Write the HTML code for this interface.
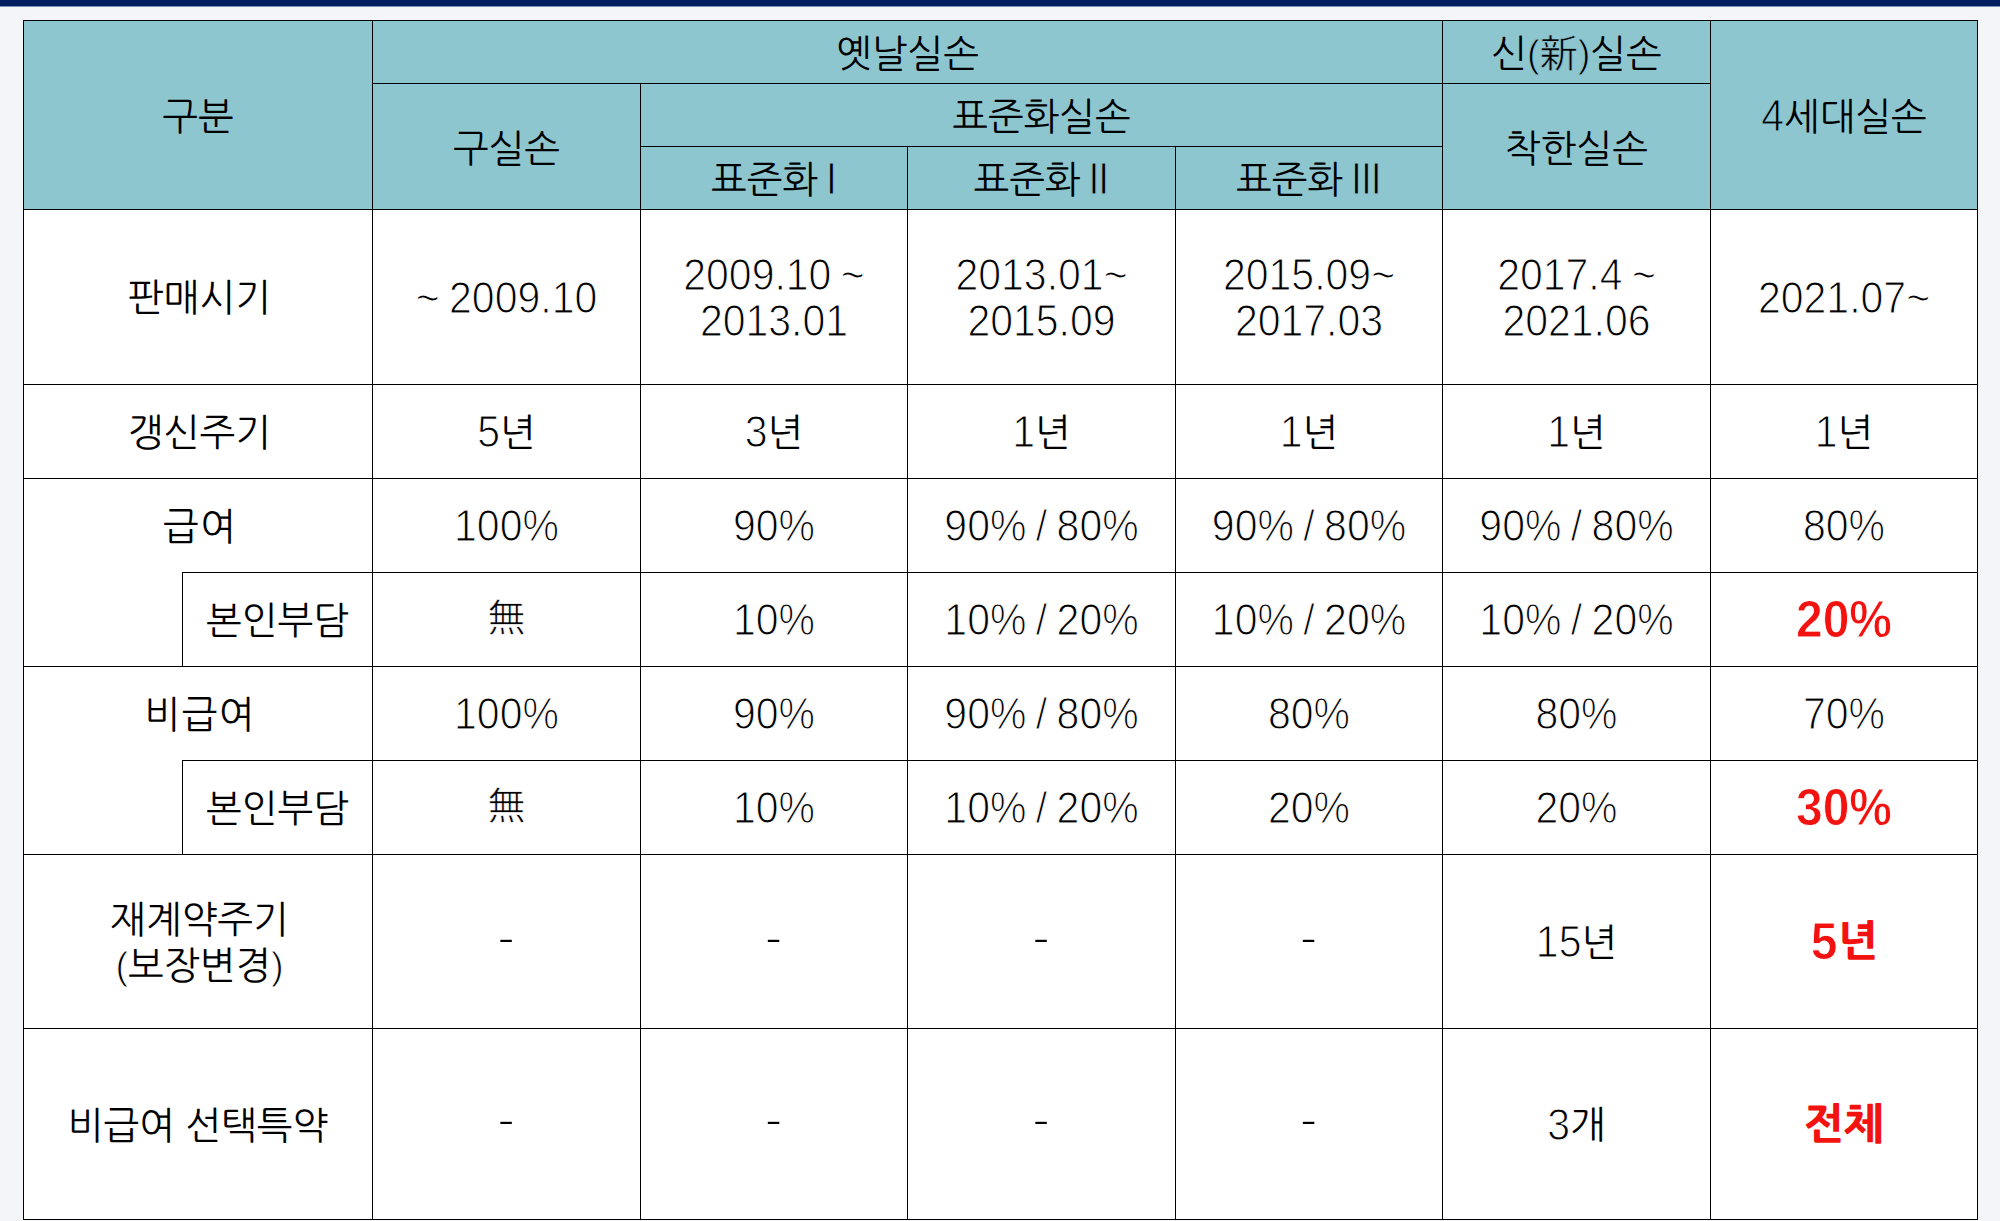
<!DOCTYPE html>
<html lang="ko">
<head>
<meta charset="utf-8">
<title>실손보험 세대별 비교</title>
<style>
html,body{margin:0;padding:0;}
body{width:2000px;height:1221px;overflow:hidden;background:#f4f5f9;position:relative;
 font-family:"Liberation Sans","NanumGothic","Noto Sans CJK KR",sans-serif;color:#000;}
.bar{position:absolute;left:0;top:0;width:2000px;height:6px;background:#001f63;}
.bar2{position:absolute;left:0;top:6px;width:2000px;height:1px;background:#7a8fb1;}
.hd{position:absolute;left:23px;top:20px;width:1955px;height:190px;background:#8ec6d0;}
.bd{position:absolute;left:23px;top:210px;width:1955px;height:1010px;background:#fff;}
.l{position:absolute;background:#000;}
.c{position:absolute;display:flex;align-items:center;justify-content:center;text-align:center;
 font-size:38px;line-height:46px;white-space:nowrap;}
.t{position:relative;top:1px;display:block;}
.h .t{top:2px;}
.n{font-size:41px;position:relative;top:1.5px;word-spacing:-2px;-webkit-text-stroke:1px #fff;display:inline-block;line-height:40px;transform:scaleY(1.09);transform-origin:50% 83%;}
.h .n{-webkit-text-stroke-color:#8ec6d0;top:0.5px;}
.c b{color:#f21310;font-weight:800;font-size:42.5px;position:relative;top:0;}
.c b .n{font-size:48px;top:2.5px;-webkit-text-stroke:0.8px #fff;transform:scaleY(1.07);}
.u3{position:relative;top:-3px;-webkit-text-stroke:0.7px #fff;}
.r{word-spacing:-3px;}
.r .n{letter-spacing:-1.5px;margin-right:1.5px;}
.p{-webkit-text-stroke:0.9px #fff;}
.h .p{-webkit-text-stroke-color:#8ec6d0;}
.hj{-webkit-text-stroke:0.6px #8ec6d0;}
.c .d{font-size:56px;top:-1.5px;left:-0.5px;transform:none;-webkit-text-stroke:2.1px #fff;}
.d1{position:relative;top:1px;}
.lab{padding-left:3px;box-sizing:border-box;}
.ls{letter-spacing:1.5px;margin-right:-1.5px;}
</style>
</head>
<body>
<div class="bar"></div><div class="bar2"></div>
<div class="hd"></div>
<div class="bd"></div>
<div class="l" style="left:23px;top:20px;width:1955px;height:1px"></div>
<div class="l" style="left:23px;top:1219px;width:1955px;height:1px"></div>
<div class="l" style="left:23px;top:20px;width:1px;height:1200px"></div>
<div class="l" style="left:1977px;top:20px;width:1px;height:1200px"></div>
<div class="l" style="left:372px;top:83px;width:1339px;height:1px"></div>
<div class="l" style="left:640px;top:146px;width:803px;height:1px"></div>
<div class="l" style="left:23px;top:209px;width:1955px;height:1px"></div>
<div class="l" style="left:372px;top:20px;width:1px;height:1200px"></div>
<div class="l" style="left:640px;top:83px;width:1px;height:1137px"></div>
<div class="l" style="left:907px;top:146px;width:1px;height:1074px"></div>
<div class="l" style="left:1175px;top:146px;width:1px;height:1074px"></div>
<div class="l" style="left:1442px;top:20px;width:1px;height:1200px"></div>
<div class="l" style="left:1710px;top:20px;width:1px;height:1200px"></div>
<div class="l" style="left:23px;top:384px;width:1955px;height:1px"></div>
<div class="l" style="left:23px;top:478px;width:1955px;height:1px"></div>
<div class="l" style="left:23px;top:666px;width:1955px;height:1px"></div>
<div class="l" style="left:23px;top:854px;width:1955px;height:1px"></div>
<div class="l" style="left:23px;top:1028px;width:1955px;height:1px"></div>
<div class="l" style="left:182px;top:572px;width:1796px;height:1px"></div>
<div class="l" style="left:182px;top:760px;width:1796px;height:1px"></div>
<div class="l" style="left:182px;top:572px;width:1px;height:95px"></div>
<div class="l" style="left:182px;top:760px;width:1px;height:95px"></div>
<div class="c h" style="left:24px;top:21px;width:348px;height:188px"><span class="t">구분</span></div>
<div class="c h" style="left:373px;top:21px;width:1069px;height:62px"><span class="t">옛날실손</span></div>
<div class="c h" style="left:1443px;top:21px;width:267px;height:62px"><span class="t">신<span class="p">(</span><span class="hj">新</span><span class="p">)</span>실손</span></div>
<div class="c h" style="left:1711px;top:21px;width:266px;height:188px"><span class="t"><span class="n">4</span>세대실손</span></div>
<div class="c h" style="left:373px;top:84px;width:267px;height:125px"><span class="t">구실손</span></div>
<div class="c h" style="left:641px;top:84px;width:801px;height:62px"><span class="t">표준화실손</span></div>
<div class="c h" style="left:1443px;top:84px;width:267px;height:125px"><span class="t">착한실손</span></div>
<div class="c h" style="left:641px;top:147px;width:266px;height:62px"><span class="t"><span class="r">표준화 <span class="n">I</span></span></span></div>
<div class="c h" style="left:908px;top:147px;width:267px;height:62px"><span class="t"><span class="r">표준화 <span class="n">II</span></span></span></div>
<div class="c h" style="left:1176px;top:147px;width:266px;height:62px"><span class="t"><span class="r">표준화 <span class="n">III</span></span></span></div>
<div class="c " style="left:373px;top:210px;width:267px;height:174px"><span class="t"><span class="n">~ 2009.10</span></span></div>
<div class="c " style="left:641px;top:210px;width:266px;height:174px"><span class="t"><span class="n">2009.10 ~</span><br><span class="n">2013.01</span></span></div>
<div class="c " style="left:908px;top:210px;width:267px;height:174px"><span class="t"><span class="n">2013.01~</span><br><span class="n">2015.09</span></span></div>
<div class="c " style="left:1176px;top:210px;width:266px;height:174px"><span class="t"><span class="n">2015.09~</span><br><span class="n">2017.03</span></span></div>
<div class="c " style="left:1443px;top:210px;width:267px;height:174px"><span class="t"><span class="n">2017.4 ~</span><br><span class="n">2021.06</span></span></div>
<div class="c " style="left:1711px;top:210px;width:266px;height:174px"><span class="t"><span class="n">2021.07~</span></span></div>
<div class="c " style="left:373px;top:385px;width:267px;height:93px"><span class="t"><span class="n">5</span>년</span></div>
<div class="c " style="left:641px;top:385px;width:266px;height:93px"><span class="t"><span class="n">3</span>년</span></div>
<div class="c " style="left:908px;top:385px;width:267px;height:93px"><span class="t"><span class="n">1</span>년</span></div>
<div class="c " style="left:1176px;top:385px;width:266px;height:93px"><span class="t"><span class="n">1</span>년</span></div>
<div class="c " style="left:1443px;top:385px;width:267px;height:93px"><span class="t"><span class="n">1</span>년</span></div>
<div class="c " style="left:1711px;top:385px;width:266px;height:93px"><span class="t"><span class="n">1</span>년</span></div>
<div class="c " style="left:373px;top:479px;width:267px;height:93px"><span class="t"><span class="n">100%</span></span></div>
<div class="c " style="left:641px;top:479px;width:266px;height:93px"><span class="t"><span class="n">90%</span></span></div>
<div class="c " style="left:908px;top:479px;width:267px;height:93px"><span class="t"><span class="n">90% / 80%</span></span></div>
<div class="c " style="left:1176px;top:479px;width:266px;height:93px"><span class="t"><span class="n">90% / 80%</span></span></div>
<div class="c " style="left:1443px;top:479px;width:267px;height:93px"><span class="t"><span class="n">90% / 80%</span></span></div>
<div class="c " style="left:1711px;top:479px;width:266px;height:93px"><span class="t"><span class="n">80%</span></span></div>
<div class="c " style="left:373px;top:573px;width:267px;height:93px"><span class="t"><span class="u3">無</span></span></div>
<div class="c " style="left:641px;top:573px;width:266px;height:93px"><span class="t"><span class="n">10%</span></span></div>
<div class="c " style="left:908px;top:573px;width:267px;height:93px"><span class="t"><span class="n">10% / 20%</span></span></div>
<div class="c " style="left:1176px;top:573px;width:266px;height:93px"><span class="t"><span class="n">10% / 20%</span></span></div>
<div class="c " style="left:1443px;top:573px;width:267px;height:93px"><span class="t"><span class="n">10% / 20%</span></span></div>
<div class="c " style="left:1711px;top:573px;width:266px;height:93px"><span class="t"><b><span class="n">20%</span></b></span></div>
<div class="c " style="left:373px;top:667px;width:267px;height:93px"><span class="t"><span class="n">100%</span></span></div>
<div class="c " style="left:641px;top:667px;width:266px;height:93px"><span class="t"><span class="n">90%</span></span></div>
<div class="c " style="left:908px;top:667px;width:267px;height:93px"><span class="t"><span class="n">90% / 80%</span></span></div>
<div class="c " style="left:1176px;top:667px;width:266px;height:93px"><span class="t"><span class="n">80%</span></span></div>
<div class="c " style="left:1443px;top:667px;width:267px;height:93px"><span class="t"><span class="n">80%</span></span></div>
<div class="c " style="left:1711px;top:667px;width:266px;height:93px"><span class="t"><span class="n">70%</span></span></div>
<div class="c " style="left:373px;top:761px;width:267px;height:93px"><span class="t"><span class="u3">無</span></span></div>
<div class="c " style="left:641px;top:761px;width:266px;height:93px"><span class="t"><span class="n">10%</span></span></div>
<div class="c " style="left:908px;top:761px;width:267px;height:93px"><span class="t"><span class="n">10% / 20%</span></span></div>
<div class="c " style="left:1176px;top:761px;width:266px;height:93px"><span class="t"><span class="n">20%</span></span></div>
<div class="c " style="left:1443px;top:761px;width:267px;height:93px"><span class="t"><span class="n">20%</span></span></div>
<div class="c " style="left:1711px;top:761px;width:266px;height:93px"><span class="t"><b><span class="n">30%</span></b></span></div>
<div class="c " style="left:373px;top:855px;width:267px;height:173px"><span class="t"><span class="n d">-</span></span></div>
<div class="c " style="left:641px;top:855px;width:266px;height:173px"><span class="t"><span class="n d">-</span></span></div>
<div class="c " style="left:908px;top:855px;width:267px;height:173px"><span class="t"><span class="n d">-</span></span></div>
<div class="c " style="left:1176px;top:855px;width:266px;height:173px"><span class="t"><span class="n d">-</span></span></div>
<div class="c " style="left:1443px;top:855px;width:267px;height:173px"><span class="t"><span class="n">15</span>년</span></div>
<div class="c " style="left:1711px;top:855px;width:266px;height:173px"><span class="t"><b><span class="n">5</span>년</b></span></div>
<div class="c " style="left:373px;top:1029px;width:267px;height:190px"><span class="t"><span class="n d">-</span></span></div>
<div class="c " style="left:641px;top:1029px;width:266px;height:190px"><span class="t"><span class="n d">-</span></span></div>
<div class="c " style="left:908px;top:1029px;width:267px;height:190px"><span class="t"><span class="n d">-</span></span></div>
<div class="c " style="left:1176px;top:1029px;width:266px;height:190px"><span class="t"><span class="n d">-</span></span></div>
<div class="c " style="left:1443px;top:1029px;width:267px;height:190px"><span class="t"><span class="n">3</span>개</span></div>
<div class="c " style="left:1711px;top:1029px;width:266px;height:190px"><span class="t"><b>전체</b></span></div>
<div class="c lab" style="left:24px;top:210px;width:348px;height:174px"><span class="t">판매시기</span></div>
<div class="c lab" style="left:24px;top:385px;width:348px;height:93px"><span class="t">갱신주기</span></div>
<div class="c lab" style="left:24px;top:479px;width:348px;height:93px"><span class="t"><span class="ls">급여</span></span></div>
<div class="c " style="left:183px;top:573px;width:189px;height:93px"><span class="t">본인부담</span></div>
<div class="c lab" style="left:24px;top:667px;width:348px;height:93px"><span class="t"><span class="ls">비급여</span></span></div>
<div class="c " style="left:183px;top:761px;width:189px;height:93px"><span class="t">본인부담</span></div>
<div class="c lab" style="left:24px;top:855px;width:348px;height:173px"><span class="t">재계약주기<br><span class="p">(</span>보장변경<span class="p">)</span></span></div>
<div class="c " style="left:24px;top:1029px;width:348px;height:190px"><span class="t"><span class="d1">비급여 선택특약</span></span></div>
</body>
</html>
